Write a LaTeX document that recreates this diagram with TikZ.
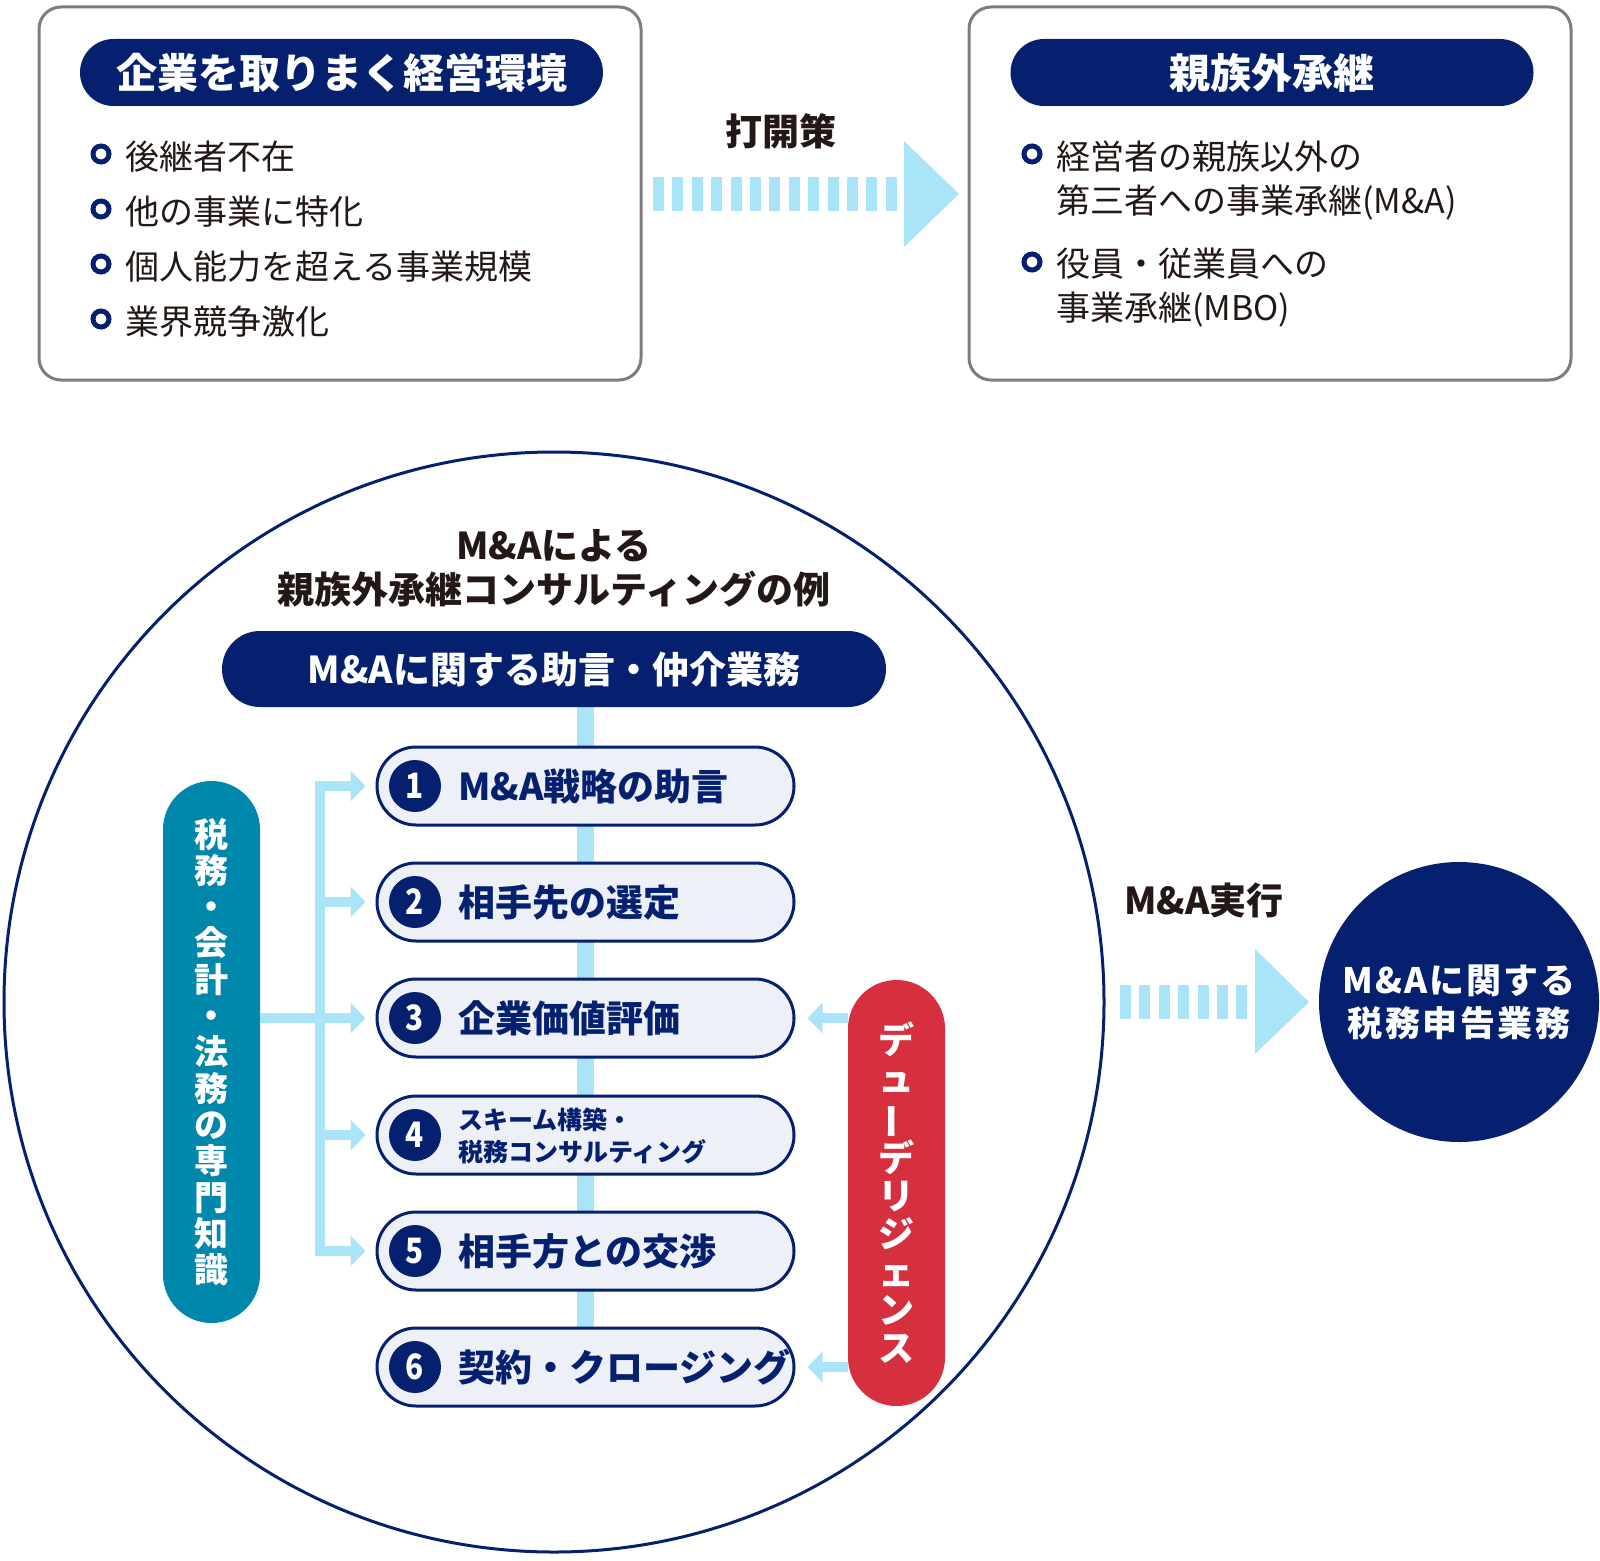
\documentclass[tikz,border=0pt]{standalone}
\usepackage{fontspec}
\setmainfont{Noto Sans CJK JP}
\usetikzlibrary{arrows.meta,backgrounds}
\definecolor{navy}{RGB}{4,32,110}
\definecolor{lblue}{RGB}{170,228,248}
\definecolor{tealc}{RGB}{0,135,172}
\definecolor{redc}{RGB}{214,47,62}
\definecolor{itemfill}{RGB}{238,240,247}
\definecolor{boxgray}{RGB}{125,125,125}
\definecolor{ink}{RGB}{35,24,21}
\newcommand\fs[1]{\fontsize{#1}{#1}\selectfont}
\newcommand\cnum[1]{\scalebox{0.85}[1]{#1}}
\begin{document}
\begin{tikzpicture}[x=1pt,y=-1pt,
  box/.style={draw=boxgray, line width=3pt, rounded corners=22pt, fill=white, minimum width=602pt, minimum height=373pt},
  titlepill/.style={fill=navy, rounded corners=33.5pt, minimum width=523pt, minimum height=67pt, text=white, font=\bfseries\fs{41}, inner sep=0pt},
  ring/.style={circle, draw=navy, line width=5pt, fill=white, minimum size=16pt, inner sep=0pt},
  btext/.style={anchor=base west, text=ink, font=\fs{34}, inner sep=0pt},
  itembox/.style={draw=navy, line width=3pt, fill=itemfill, rounded corners=39pt, minimum width=417pt, minimum height=78pt},
  num/.style={circle, fill=navy, text=white, font=\bfseries\fs{35}, minimum size=52pt, inner sep=0pt},
  itext/.style={anchor=base west, text=navy, font=\bfseries\fs{37}, inner sep=0pt},
  conn/.style={draw=lblue, line width=10pt},
  connarrow/.style={conn, -{Triangle[length=15pt,width=30pt]}},
  stripe/.style={fill=lblue},
  vpill/.style={rounded corners=48.5pt, minimum width=97pt, text=white, align=center, inner sep=0pt}
]
\useasboundingbox (0,0) rectangle (1600,1560);

% ---------- top boxes ----------
\node[box] (lbox) at (340,193.5) {};
\node[box] (rbox) at (1270,193.5) {};
\node[titlepill] (ltitle) at (341.5,72.5) {企業を取りまく経営環境};
\node[titlepill] (rtitle) at (1272,72.5) {親族外承継};

\foreach \y/\t [count=\i] in {154/後継者不在, 209/他の事業に特化, 264/個人能力を超える事業規模, 319/業界競争激化} {
  \node[ring] (lr\i) at (101,\y) {};
  \node[btext] (lt\i) at (125.5,\y+15) {\t};
}

\node[ring] (rr1) at (1032,154) {};
\node[btext] (rt1a) at (1056,169) {経営者の親族以外の};
\node[btext] (rt1b) at (1056,213) {第三者への事業承継(M\&A)};
\node[ring] (rr2) at (1032,262) {};
\node[btext] (rt2a) at (1056,276) {役員・従業員への};
\node[btext] (rt2b) at (1056,320) {事業承継(MBO)};

% arrow 1
\node[font=\bfseries\fs{37}, text=ink] (dk) at (781,131) {打開策};
\foreach \k in {0,...,12} \fill[stripe] (653+\k*19.4,177) rectangle ++(11,34);
\fill[lblue] (904,141) -- (959,194) -- (904,247) -- cycle;

% ---------- big circle ----------
\node[circle, draw=navy, line width=3pt, minimum size=1100pt, inner sep=0pt] (big) at (554,1002) {};
\node[font=\bfseries\fontsize{37}{44}\selectfont, text=ink, align=center] (ex) at (554,568) {M\&Aによる\\親族外承継コンサルティングの例};
\node[fill=navy, rounded corners=38pt, minimum width=664pt, minimum height=76pt, text=white, font=\bfseries\fs{37}, inner sep=0pt] (adv) at (554,669) {M\&Aに関する助言・仲介業務};

\node[itembox] (it1) at (585.5,786) {};
\node[itembox] (it2) at (585.5,902) {};
\node[itembox] (it3) at (585.5,1018) {};
\node[itembox] (it4) at (585.5,1135) {};
\node[itembox] (it5) at (585.5,1251) {};
\node[itembox] (it6) at (585.5,1367) {};

\begin{scope}[on background layer]
  \draw[lblue, line width=17pt] (it1.center |- adv.south) -- (it6.center);
\end{scope}

\node[num] (n1) at (415,786) {\cnum{1}};
\node[num] (n2) at (415,902) {\cnum{2}};
\node[num] (n3) at (415,1018) {\cnum{3}};
\node[num] (n4) at (415,1135) {\cnum{4}};
\node[num] (n5) at (415,1251) {\cnum{5}};
\node[num] (n6) at (415,1367) {\cnum{6}};

\node[itext] (t1) at (458,800) {M\&A戦略の助言};
\node[itext] (t2) at (458,916) {相手先の選定};
\node[itext] (t3) at (458,1032) {企業価値評価};
\node[itext, font=\bfseries\fs{25}] (t4a) at (458,1129.5) {スキーム構築・};
\node[itext, font=\bfseries\fs{25}] (t4b) at (458,1161.5) {税務コンサルティング};
\node[itext] (t5) at (458,1265) {相手方との交渉};
\node[itext] (t6) at (458,1381) {契約・クロージング};

% teal pill
\node[vpill, fill=tealc, minimum height=542pt, font=\bfseries\fontsize{34}{36.3}\selectfont] (tp) at (211.5,1052)
  {税\\務\\・\\会\\計\\・\\法\\務\\の\\専\\門\\知\\識};
% red pill
\node[vpill, fill=redc, minimum height=426pt, font=\bfseries\fontsize{36}{38}\selectfont] (rp) at (896.5,1193)
  {デ\\ュ\\\rotatebox[origin=c]{90}{ー}\\デ\\リ\\ジ\\ェ\\ン\\ス};

% connectors
\coordinate (busx) at (320,0);
\draw[conn] (tp.east |- it3.center) -- (busx |- it3.center);
\draw[conn, line cap=rect] (busx |- it1.center) -- (busx |- it5.center);
\foreach \i in {1,...,5} \draw[connarrow, shorten >=10pt] (busx |- it\i.center) -- (it\i.west);
\draw[connarrow, shorten >=12pt] (rp.west |- it3.center) -- (it3.east);
\draw[connarrow, shorten >=12pt] (rp.west |- it6.center) -- (it6.east);

% ---------- arrow 2 and result ----------
\node[font=\bfseries\fs{37}, text=ink] (exe) at (1204,900) {M\&A実行};
\foreach \k in {0,...,6} \fill[stripe] (1120+\k*19.4,985) rectangle ++(11,34);
\fill[lblue] (1255,949) -- (1309,1002) -- (1255,1054) -- cycle;
\node[circle, fill=navy, minimum size=280pt, text=white, font=\bfseries\fontsize{35}{43}\selectfont, align=center, inner sep=0pt] (tax) at (1459,1002)
  {{\addfontfeatures{LetterSpace=6}M\&Aに関する}\\{\addfontfeatures{LetterSpace=7}税務申告業務}};
\end{tikzpicture}
\end{document}
